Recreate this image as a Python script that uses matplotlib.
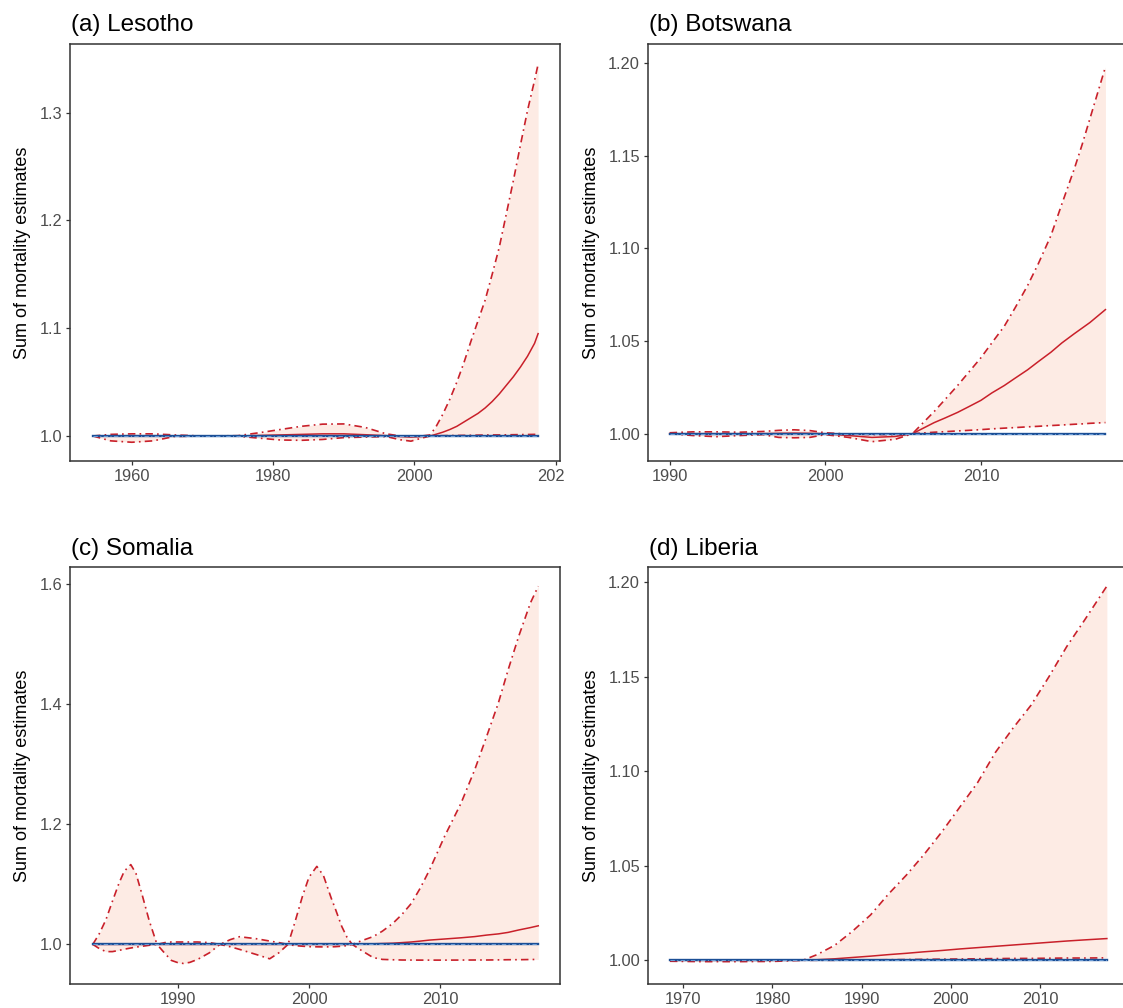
"""Posterior sum of mortality estimates, four-country panel figure."""

import matplotlib
matplotlib.use("Agg")
import matplotlib.pyplot as plt
from matplotlib.ticker import FormatStrFormatter
from matplotlib.transforms import Bbox, TransformedBbox

plt.rcParams["font.family"] = ["Liberation Sans", "DejaVu Sans"]

# ---- data -----------------------------------------------------------------
# (a) Lesotho
les_years = [1954.5, 1957, 1960, 1963, 1966, 1970, 1975, 1978, 1981, 1984, 1987,
             1990, 1993, 1996, 1998, 1999.5, 2001, 2002.2, 2003, 2004, 2005,
             2006, 2007, 2008, 2009, 2010, 2011, 2012, 2013, 2014, 2015, 2016,
             2017, 2017.5]
les_upper = [1.000, 1.0015, 1.002, 1.002, 1.001, 1.000, 1.0003, 1.003, 1.006,
             1.009, 1.011, 1.0112, 1.008, 1.002, 1.000, 1.000, 1.000, 1.001,
             1.008, 1.020, 1.034, 1.050, 1.068, 1.088, 1.107, 1.126, 1.150,
             1.175, 1.206, 1.237, 1.270, 1.302, 1.330, 1.345]
les_median = [1.000, 1.000, 1.000, 1.000, 1.000, 1.000, 1.000, 1.0005, 1.001,
              1.0015, 1.002, 1.002, 1.0012, 1.0003, 0.9995, 0.999, 0.9995,
              1.000, 1.0015, 1.0035, 1.006, 1.009, 1.013, 1.017, 1.021, 1.026,
              1.032, 1.039, 1.047, 1.055, 1.064, 1.074, 1.086, 1.095]
les_lower = [1.000, 0.9955, 0.9942, 0.9955, 0.9995, 1.000, 0.9998, 0.998,
             0.9963, 0.996, 0.9968, 0.9985, 0.999, 0.9995, 0.9965, 0.9952,
             0.998, 1.000, 1.0002, 1.0003, 1.0004, 1.0005, 1.0006, 1.0007,
             1.0008, 1.0009, 1.001, 1.001, 1.0011, 1.0012, 1.0013, 1.0014,
             1.0015, 1.0015]

# (b) Botswana
bot_years = [1990, 1991.5, 1993, 1994.5, 1996, 1997, 1998, 1999, 2000, 2001.5,
             2003, 2004.5, 2005.6, 2006.3, 2007, 2007.7, 2008.5, 2009.2, 2010,
             2010.7, 2011.5, 2012.2, 2013, 2013.7, 2014.5, 2015.2, 2016, 2016.5,
             2017, 2017.5, 2018]
bot_upper = [1.0005, 1.001, 1.001, 1.0008, 1.0012, 1.0018, 1.0021, 1.0017,
             1.0005, 0.9998, 0.9995, 0.9995, 1.000, 1.006, 1.012, 1.0185, 1.026,
             1.033, 1.041, 1.049, 1.058, 1.068, 1.080, 1.092, 1.107, 1.124,
             1.143, 1.156, 1.170, 1.184, 1.198]
bot_median = [1.000, 1.000, 1.000, 1.000, 1.000, 1.0002, 1.0003, 1.0002, 1.000,
              0.999, 0.998, 0.9985, 1.000, 1.003, 1.006, 1.0085, 1.0115, 1.0145,
              1.018, 1.022, 1.026, 1.030, 1.0345, 1.039, 1.044, 1.049, 1.054,
              1.057, 1.060, 1.0635, 1.067]
bot_lower = [1.000, 0.999, 0.9984, 0.999, 0.9995, 0.998, 0.9978, 0.998, 0.9995,
             0.998, 0.9957, 0.997, 1.000, 1.0004, 1.0008, 1.0011, 1.0015, 1.0018,
             1.0022, 1.0026, 1.003, 1.0033, 1.0037, 1.004, 1.0044, 1.0047,
             1.0051, 1.0053, 1.0056, 1.0058, 1.006]

# (c) Somalia
som_years = [1983.5, 1984.0, 1984.5, 1985.0, 1985.5, 1985.9, 1986.4, 1986.8,
             1987.3, 1987.8, 1988.4, 1989.0, 1989.5, 1990.0, 1990.4, 1990.9,
             1991.5, 1992.4, 1993.2, 1994.0, 1994.7, 1996.0, 1997.0, 1997.7,
             1998.4, 1998.9, 1999.5, 2000.0, 2000.6, 2001.1, 2001.7, 2002.0,
             2002.5, 2002.9, 2003.3, 2004.0, 2004.9, 2005.6, 2006.4, 2007.1,
             2007.8, 2008.5, 2009.2, 2010.35, 2011.6, 2012.65, 2013.55, 2014.45,
             2015.2, 2016.0, 2016.9, 2017.5]
som_upper = [1.000, 1.018, 1.041, 1.072, 1.102, 1.122, 1.133, 1.118, 1.080,
             1.040, 1.000, 1.003, 1.004, 1.004, 1.004, 1.004, 1.004, 1.003,
             1.000, 1.008, 1.0128, 1.0094, 1.0056, 1.003, 1.000, 1.035, 1.080,
             1.112, 1.130, 1.115, 1.077, 1.060, 1.030, 1.012, 1.000, 1.006,
             1.013, 1.022, 1.035, 1.050, 1.068, 1.094, 1.124, 1.180, 1.235,
             1.291, 1.346, 1.402, 1.4575, 1.513, 1.569, 1.597]
som_median = [1.000] * 35 + [1.0005, 1.001, 1.0015, 1.002, 1.003, 1.004, 1.0055,
                             1.0072, 1.009, 1.011, 1.013, 1.0155, 1.0175, 1.020,
                             1.024, 1.028, 1.031]
som_lower = [1.000, 0.993, 0.988, 0.988, 0.990, 0.992, 0.994, 0.9955, 0.997,
             0.9985, 1.000, 0.985, 0.9733, 0.9695, 0.9683, 0.970, 0.975, 0.986,
             1.000, 0.996, 0.9917, 0.983, 0.976, 0.986, 1.000, 0.998, 0.997,
             0.9962, 0.996, 0.9958, 0.996, 0.9962, 0.997, 0.998, 1.000, 0.990,
             0.978, 0.975, 0.9744, 0.974, 0.9739, 0.9738, 0.9738, 0.9738,
             0.9739, 0.974, 0.974, 0.9742, 0.9745, 0.9745, 0.9748, 0.975]

# (d) Liberia
lib_years = [1968.5, 1972, 1976, 1980, 1983.5, 1985, 1987, 1989, 1991, 1993,
             1995, 1997, 1999, 2001, 2003, 2005, 2007, 2009, 2011, 2013, 2015,
             2017.5]
lib_upper = [1.0002, 1.0002, 1.0002, 1.0002, 1.0002, 1.003, 1.008, 1.0155,
             1.024, 1.035, 1.045, 1.056, 1.068, 1.081, 1.094, 1.110, 1.123,
             1.135, 1.150, 1.166, 1.180, 1.198]
lib_median = [1.000, 1.000, 1.000, 1.000, 1.000, 1.0003, 1.0008, 1.0015,
              1.0022, 1.003, 1.0037, 1.0045, 1.0052, 1.006, 1.0067, 1.0074,
              1.0081, 1.0088, 1.0095, 1.0102, 1.0108, 1.0115]
lib_lower = [0.9995, 0.9993, 0.9993, 0.9994, 1.000, 1.000, 1.000, 1.0001,
             1.0002, 1.0003, 1.0004, 1.0005, 1.0006, 1.0007, 1.0008, 1.0009,
             1.001, 1.001, 1.0011, 1.0012, 1.0012, 1.0013]

panels = [
    ("(a) Lesotho", les_years, les_lower, les_median, les_upper),
    ("(b) Botswana", bot_years, bot_lower, bot_median, bot_upper),
    ("(c) Somalia", som_years, som_lower, som_median, som_upper),
    ("(d) Liberia", lib_years, lib_lower, lib_median, lib_upper),
]

x_ticks = [[1960, 1980, 2000, 2020], [1990, 2000, 2010], [1990, 2000, 2010],
           [1970, 1980, 1990, 2000, 2010]]
y_ticks = [[1.0, 1.1, 1.2, 1.3], [1.00, 1.05, 1.10, 1.15, 1.20],
           [1.0, 1.2, 1.4, 1.6], [1.00, 1.05, 1.10, 1.15, 1.20]]
y_fmt = ["%.1f", "%.2f", "%.1f", "%.2f"]
x_lims = [(1951.25, 2020.6), (1988.61, 2019.45), (1981.76, 2019.16), (1966.04, 2019.87)]
y_lims = [(0.9768, 1.3638), (0.98526, 1.2104), (0.934, 1.629), (0.98746, 1.2081)]

# ---- figure ---------------------------------------------------------------
W, H = 1123, 1008
fig = plt.figure(figsize=(W / 100, H / 100), dpi=100)

# panel boxes in pixels: left, top, right, bottom (right column runs off the page)
boxes = [(70, 44, 560, 461), (648, 44, 1128, 461),
         (70, 567, 560, 984), (648, 567, 1128, 984)]

RED = "#c9202a"
FILL = "#fdebe4"
BLUE = "#1c4f96"
dotdash = (0, (4.5, 2.5, 1, 2.5))

axes = []
for i, (title, yrs, lo, med, up) in enumerate(panels):
    l, t, r, b = boxes[i]
    ax = fig.add_axes([l / W, 1 - b / H, (r - l) / W, (b - t) / H])
    axes.append(ax)

    ax.fill_between(yrs, lo, up, color=FILL, lw=0, zorder=1)
    ax.plot(yrs, up, color=RED, lw=1.2, ls=dotdash, zorder=2)
    ax.plot(yrs, lo, color=RED, lw=1.2, ls=dotdash, zorder=2)
    ax.plot(yrs, med, color=RED, lw=1.1, zorder=3)
    ax.plot([yrs[0], yrs[-1]], [1.0, 1.0], color=BLUE, lw=1.7, zorder=4)
    ax.plot([yrs[0], yrs[-1]], [1.0, 1.0], color="#6f9fd8", lw=0.7,
            ls=dotdash, zorder=5)

    ax.set_xlim(*x_lims[i])
    ax.set_ylim(*y_lims[i])
    ax.set_xticks(x_ticks[i])
    ax.set_yticks(y_ticks[i])
    ax.yaxis.set_major_formatter(FormatStrFormatter(y_fmt[i]))
    ax.tick_params(direction="out", length=3.2, width=0.9, color="#333333",
                   labelsize=11.8, labelcolor="#4d4d4d", pad=2.5)
    for s in ax.spines.values():
        s.set_color("#333333")
        s.set_linewidth(1.1)
    ax.set_title(title, loc="left", fontsize=17.5, pad=9, x=0.002)
    ax.set_ylabel("Sum of mortality estimates", fontsize=13, labelpad=6)

# the last x tick label of (a) is cut at the panel edge
fig.canvas.draw()
clip = TransformedBbox(Bbox.from_extents(0, 0, 564 / W, 1), fig.transFigure)
for lbl in axes[0].get_xticklabels():
    lbl.set_clip_box(clip)
    lbl.set_clip_on(True)

fig.savefig("out.png", dpi=100, facecolor="white")
